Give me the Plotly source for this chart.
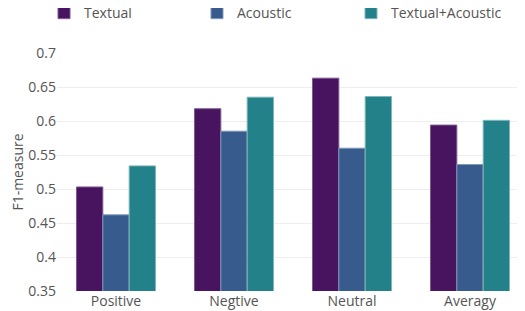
import plotly.graph_objects as go

categories = ["Positive", "Negtive", "Neutral", "Averagy"]
textual = [0.503, 0.618, 0.663, 0.594]
acoustic = [0.462, 0.585, 0.560, 0.536]
textual_acoustic = [0.534, 0.635, 0.636, 0.601]
series_names = ["Textual", "Acoustic", "Textual+Acoustic"]
colors = ["#48135f", "#375b8d", "#238289"]
outlines = ["#7a5a91", "#7f98b8", "#7fb6b9"]
legend_ids = ["legend", "legend2", "legend3"]
legend_x = [-0.0275, 0.2966, 0.6229]

fig = go.Figure()
for name, vals, c, oc, lg in zip(series_names, [textual, acoustic, textual_acoustic], colors, outlines, legend_ids):
    fig.add_trace(go.Bar(x=categories, y=vals, name=name, legend=lg, showlegend=True,
                         marker=dict(color=c, line=dict(color=oc, width=1))))

legend_style = dict(orientation="h", y=1.235, yanchor="top", yref="paper",
                    xanchor="left", xref="paper", font=dict(size=14, color="#555"),
                    bgcolor="rgba(0,0,0,0)")

fig.update_layout(
    width=525, height=311,
    showlegend=True,
    margin=dict(l=49, r=4, t=45, b=28, autoexpand=False),
    paper_bgcolor="white", plot_bgcolor="white",
    font=dict(family="Open Sans", size=14, color="#555"),
    barmode="group", bargap=0.33, bargroupgap=0,
    legend=dict(x=legend_x[0], **legend_style),
    legend2=dict(x=legend_x[1], **legend_style),
    legend3=dict(x=legend_x[2], **legend_style),
    xaxis=dict(showgrid=False, ticks="", tickfont=dict(size=14)),
    yaxis=dict(range=[0.35, 0.7], dtick=0.05, gridcolor="#eeeeee", zeroline=False,
               tickfont=dict(size=14), title=dict(text="F1-measure", font=dict(size=14), standoff=8)),
)
fig.write_html("out.html")
